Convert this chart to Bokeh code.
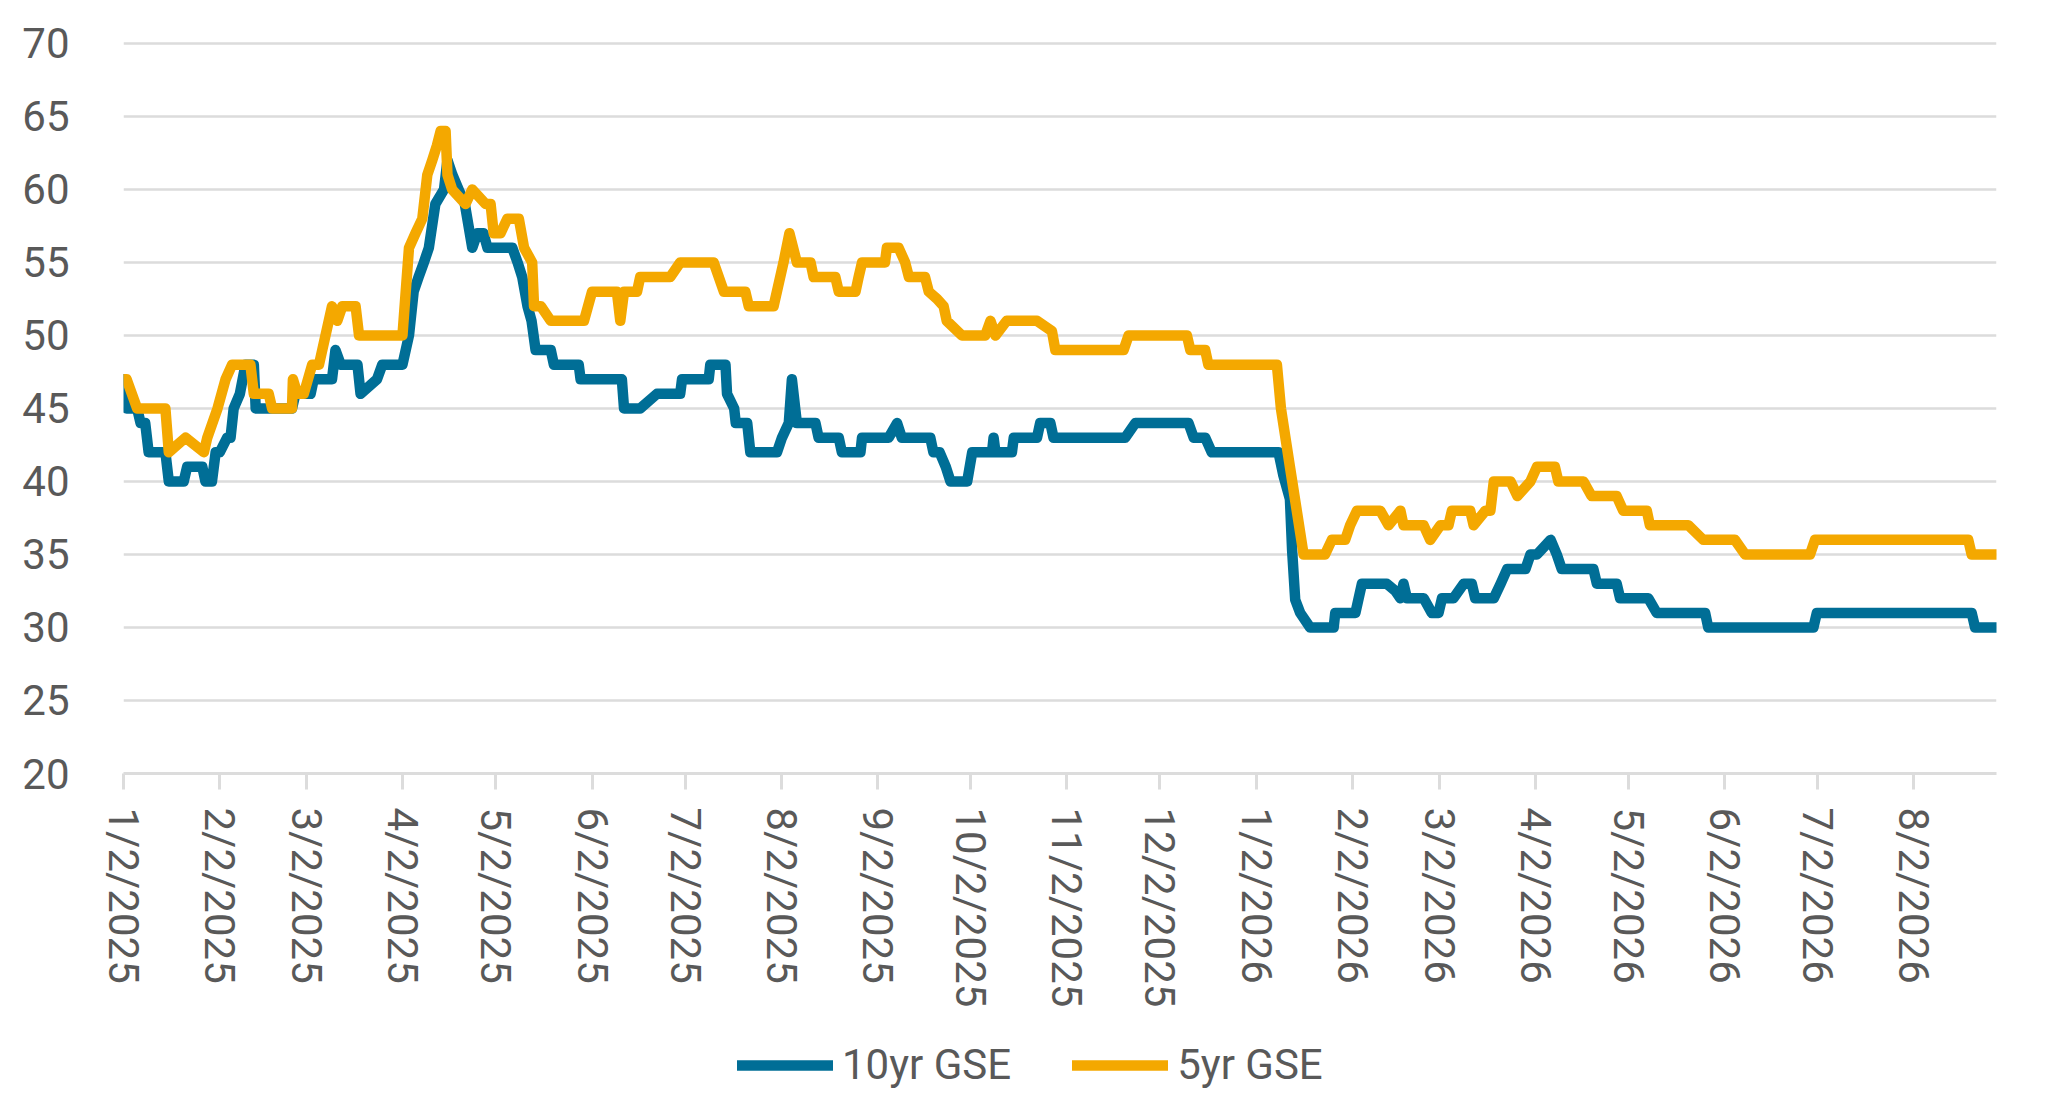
from bokeh.plotting import figure
from bokeh.models import FixedTicker, Legend, LegendItem
from bokeh.layouts import column
from bokeh.embed import file_html
from bokeh.resources import INLINE
import pandas as pd

START_DATE = "2025-01-02"
END_DAY = 603.6

tick_labels = ["1/2/2025", "2/2/2025", "3/2/2025", "4/2/2025", "5/2/2025", "6/2/2025",
               "7/2/2025", "8/2/2025", "9/2/2025", "10/2/2025", "11/2/2025", "12/2/2025",
               "1/2/2026", "2/2/2026", "3/2/2026", "4/2/2026", "5/2/2026", "6/2/2026",
               "7/2/2026", "8/2/2026"]
y_ticks = [20, 25, 30, 35, 40, 45, 50, 55, 60, 65, 70]

# days since 1/2/2025, spread values (bp)
day_10yr = [0, 1, 4.4, 5.5, 7, 8.1, 13.5, 14.6, 19.4, 20.5, 25.4, 26.4, 28.5, 29.7, 31, 33.4,
            34.5, 35.5, 37.5, 39.3, 42, 42.6, 54.3, 55.4, 60.3, 61.3, 67.2, 68.3, 70, 75.4,
            76.4, 81.7, 83.4, 89.9, 92, 93.5, 95.1, 96.8, 98.4, 100.5, 103.3, 104.4, 106, 108,
            110, 112.4, 114, 116, 117.3, 125.3, 127, 128.5, 130.2, 131.5, 132.8, 137.7, 138.7,
            146.7, 147.3, 160.6, 161.3, 166.5, 171.9, 179.4, 180, 188.6, 189.1, 194, 194.5,
            196.8, 197.3, 201, 202, 210.6, 212.2, 214.4, 215.4, 217, 223, 224, 230.5, 231.5,
            237.5, 238, 246.6, 249.3, 250.8, 260, 261, 263, 265, 266.5, 271.9, 273.5, 279.9,
            280.4, 281, 286.3, 286.9, 294.4, 295.4, 298.7, 299.7, 322.8, 326.1, 343.2, 344.9,
            348.6, 350.7, 372.2, 373.8, 375.9, 376.6, 377.6, 379.2, 382.4, 390, 390.5, 397,
            399.1, 407.1, 409.9, 411.5, 412.5, 413.6, 419, 421.6, 423.8, 424.9, 428.6, 431.9,
            434.5, 435.6, 441.6, 443.8, 445.9, 451.8, 453.4, 455.5, 459.9, 461.9, 463.5, 473.7,
            474.8, 481.2, 482.3, 491.4, 494.1, 509.7, 510.7, 544.6, 545.7, 595.6, 596.7, 603.6]
val_10yr = [47, 45, 45, 44, 44, 42, 42, 40, 40, 41, 41, 40, 40, 42, 42, 43,
            43, 45, 46, 48, 48, 45, 45, 46, 46, 47, 47, 49, 48, 48,
            46, 47, 48, 48, 50, 53, 54, 55, 56, 59, 60, 62, 61, 60,
            59, 56, 57, 57, 56, 56, 55, 54, 52, 51, 49, 49, 48,
            48, 47, 47, 45, 45, 46, 46, 47, 47, 48, 48, 46,
            45, 44, 44, 42, 42, 43, 44, 47, 44, 44, 43, 43, 42,
            42, 43, 43, 44, 43, 43, 42, 42, 41, 40, 40, 42, 42,
            43, 42, 42, 43, 43, 44, 44, 43, 43, 44, 44, 43,
            43, 42, 42, 40.4, 38.8, 35.3, 31.9, 31, 30, 30, 31, 31,
            33, 33, 32.5, 32, 33, 32, 32, 31, 31, 32, 32, 33,
            33, 32, 32, 33, 34, 34, 35, 35, 36, 35, 34, 34,
            33, 33, 32, 32, 31, 31, 30, 30, 31, 31, 30, 30]

day_5yr = [0, 1, 4.4, 13.5, 14.6, 20, 25.9, 27, 30.3, 32.9, 35, 40.9, 42, 46.8, 47.9, 54.3,
           54.6, 56, 58.1, 60.8, 63, 67.2, 68.9, 70.5, 74.8, 75.9, 89.9, 92, 94.1, 96.3, 97.9,
           99.5, 101, 102.2, 103.8, 104.4, 105.9, 110.2, 112.4, 116.7, 118.3, 119.3, 121.5,
           123.7, 127.4, 129.1, 131.7, 132.3, 134.5, 137.7, 148.4, 151, 159, 160.1, 161.3,
           165.5, 166.5, 176.2, 179.4, 190.2, 193.5, 200.4, 201.5, 209.5, 212.7, 214.6, 217,
           221.4, 222.4, 229.4, 230.5, 235.9, 236.9, 238, 245.4, 246, 249.8, 251.9, 253.1,
           258.3, 259.5, 262.2, 264.3, 265.3, 270.2, 277.7, 279.4, 281, 284.6, 294.4, 299.2,
           300.3, 322.3, 323.9, 342.7, 343.8, 348.6, 349.6, 371.7, 373, 375.9, 378.1, 380.3,
           387.2, 389.4, 393.7, 395.3, 397.5, 405, 407.7, 411.5, 412.5, 419, 421.1, 424.4,
           427, 428.1, 434, 435.1, 438.9, 440.5, 441.6, 447, 449.2, 453.4, 455.5, 461.3,
           462.4, 470.5, 473.1, 481.2, 483.3, 490.9, 491.9, 504.3, 509.1, 519.3, 522.6, 543.5,
           545.1, 594.5, 595.6, 603.6]
val_5yr = [47, 47, 45, 45, 42, 43, 42, 43, 45, 47, 48, 48, 46, 46, 45, 45,
           47, 46, 46, 48, 48, 52, 51, 52, 52, 50, 50, 56, 57, 58, 61,
           62, 63, 64, 64, 61, 60, 59, 60, 59, 59, 57, 57,
           58, 58, 56, 55, 52, 52, 51, 51, 53, 53, 51, 53,
           53, 54, 54, 55, 55, 53, 53, 52, 52, 55, 57, 55,
           55, 54, 54, 53, 53, 54, 55, 55, 56, 56, 55, 54,
           54, 53, 52.5, 52, 51, 50, 50, 51, 50, 51, 51, 50.3,
           49, 49, 50, 50, 49, 49, 48, 48, 45, 41, 38, 35,
           35, 36, 36, 37, 38, 38, 37, 38, 37, 37, 36, 37,
           37, 38, 38, 37, 38, 38, 40, 40, 39, 40, 41, 41,
           40, 40, 39, 39, 38, 38, 37, 37, 36, 36, 35, 35,
           36, 36, 35, 35]

series_names = ["10yr GSE", "5yr GSE"]

BLUE = "#006E96"
GOLD = "#F4A800"
TEXT = "#595959"
GRID = "#DCDCDC"
FONT = "Roboto"
FSIZE = "42px"
LW = 10.5

start = pd.Timestamp(START_DATE)
tick_days = [int((pd.to_datetime(lbl, format="%m/%d/%Y") - start).days) for lbl in tick_labels]

W = 2030
p = figure(width=W, height=1023, x_range=(0, END_DAY), y_range=(20, 70.2),
           output_backend="svg", toolbar_location=None,
           min_border_left=123, min_border_right=34, min_border_top=40, min_border_bottom=250)
p.outline_line_color = None
p.background_fill_color = "white"
p.border_fill_color = "white"

p.line(day_10yr, val_10yr, line_color=BLUE, line_width=LW, line_join="round", line_cap="round")
p.line(day_5yr, val_5yr, line_color=GOLD, line_width=LW, line_join="round", line_cap="round")

p.xgrid.grid_line_color = None
p.ygrid.grid_line_color = GRID
p.ygrid.grid_line_width = 2.5
p.yaxis.ticker = FixedTicker(ticks=y_ticks)
p.xaxis.ticker = FixedTicker(ticks=tick_days)
p.xaxis.major_label_overrides = {d: l for d, l in zip(tick_days, tick_labels)}
p.xaxis.major_label_orientation = "vertical"

for ax in (p.xaxis, p.yaxis):
    ax.major_label_text_font = FONT
    ax.major_label_text_font_size = FSIZE
    ax.major_label_text_color = TEXT
    ax.minor_tick_line_color = None

p.yaxis.axis_line_color = None
p.yaxis.major_tick_line_color = None
p.yaxis.major_label_standoff = 48

p.xaxis.axis_line_color = GRID
p.xaxis.axis_line_width = 3
p.xaxis.major_tick_line_color = GRID
p.xaxis.major_tick_line_width = 3
p.xaxis.major_tick_out = 16
p.xaxis.major_tick_in = 0
p.xaxis.major_label_standoff = 18

# legend strip below the chart (its frame is aligned with the chart frame)
pl = figure(width=W, height=77, x_range=(0, 1), y_range=(0, 1),
            output_backend="svg", toolbar_location=None,
            x_axis_location=None, y_axis_location=None, min_border=0)
pl.outline_line_color = None
pl.grid.grid_line_color = None
l1 = pl.line([-5, -4], [-5, -5], line_color=BLUE, line_width=LW, line_cap="round")
l2 = pl.line([-5, -4], [-5, -5], line_color=GOLD, line_width=LW, line_cap="round")
legend = Legend(items=[LegendItem(label=series_names[0], renderers=[l1]),
                       LegendItem(label=series_names[1], renderers=[l2])],
                orientation="horizontal", location=(614, 11),
                border_line_color=None, background_fill_alpha=0,
                padding=0, margin=0, spacing=61, glyph_width=96, glyph_height=44,
                label_standoff=9, label_text_font=FONT, label_text_font_size=FSIZE,
                label_text_color=TEXT)
pl.add_layout(legend)

layout = column(p, pl, spacing=0)
open("out.html", "w").write(file_html(layout, INLINE))
